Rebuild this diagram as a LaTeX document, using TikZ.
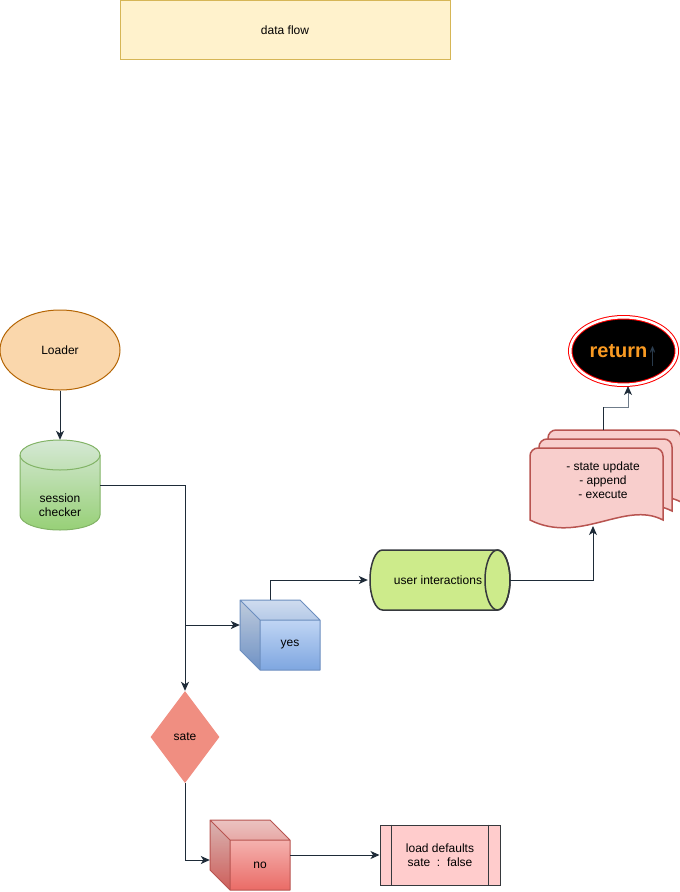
\documentclass[tikz,border=0pt]{standalone}
\usepackage{fontspec}
\setmainfont{Liberation Sans}
\newfontfamily\djv{DejaVu Sans}
\usetikzlibrary{shapes.geometric,arrows.meta,calc}
\definecolor{conncol}{HTML}{1E2B38}
\definecolor{conngray}{HTML}{6F7C8A}
\definecolor{dffill}{HTML}{FFF2CC}
\definecolor{dfstroke}{HTML}{D6B656}
\definecolor{loaderfill}{HTML}{FAD7AC}
\definecolor{loaderstroke}{HTML}{B46504}
\definecolor{scTop}{HTML}{D5E8D4}
\definecolor{scBot}{HTML}{97D077}
\definecolor{scStroke}{HTML}{82B366}
\definecolor{yesTop}{HTML}{DAE8FC}
\definecolor{yesBot}{HTML}{7EA6E0}
\definecolor{yesStroke}{HTML}{6C8EBF}
\definecolor{noTop}{HTML}{F8CECC}
\definecolor{noBot}{HTML}{EA6B66}
\definecolor{noStroke}{HTML}{B85450}
\definecolor{sateFill}{HTML}{F08E81}
\definecolor{uiFill}{HTML}{CDEB8B}
\definecolor{uiStroke}{HTML}{36393D}
\definecolor{docFill}{HTML}{F8CECC}
\definecolor{docStroke}{HTML}{B85450}
\definecolor{ldFill}{HTML}{FFCCCC}
\definecolor{ldStroke}{HTML}{36393D}
\definecolor{retOrange}{HTML}{F99A22}
\definecolor{arrowDark}{HTML}{2C3E50}
\tikzset{
  arrowline/.style={draw=conncol, line width=1pt, -{Stealth[length=9pt,width=8pt,inset=2.5pt,color=conncol]}},
  lbl/.style={font=\fontsize{12pt}{14pt}\selectfont, align=center, inner sep=0pt, text=black},
  anchorbox/.style={draw=none, fill=none, inner sep=0pt},
}
\newcommand{\docpage}[2]{%
  \filldraw[fill=docFill, draw=docStroke, line width=1.5pt]
    (#1,#2+8) arc[start angle=180,end angle=90,radius=8pt]
    -- (#1+125,#2) arc[start angle=90,end angle=0,radius=8pt]
    -- (#1+133,#2+72)
    .. controls (#1+95,#2+52) and (#1+50,#2+97) .. (#1,#2+72) -- cycle;}
\begin{document}
\begin{tikzpicture}[x=1pt,y=-1pt]
\useasboundingbox (0,0) rectangle (680,892);

% title box
\node[rectangle, draw=dfstroke, fill=dffill, line width=1pt, minimum width=330pt, minimum height=59pt, lbl] (df) at (285,30) {data flow};

% Loader
\node[ellipse, draw=loaderstroke, fill=loaderfill, line width=1pt, minimum width=120pt, minimum height=80pt, lbl] (loader) at (60,350) {Loader};

% session checker cylinder
\shade[top color=scTop, bottom color=scBot] (20,455) -- (20,515) arc[start angle=180,end angle=360,x radius=40pt,y radius=15pt] -- (100,455) arc[start angle=0,end angle=180,x radius=40pt,y radius=15pt] -- cycle;
\draw[scStroke, line width=1pt] (20,455) -- (20,515) arc[start angle=180,end angle=360,x radius=40pt,y radius=15pt] -- (100,455) arc[start angle=0,end angle=180,x radius=40pt,y radius=15pt] -- cycle;
\draw[scStroke, line width=1pt] (20,455) arc[start angle=180,end angle=360,x radius=40pt,y radius=15pt];
\node[anchorbox, minimum width=80pt, minimum height=90pt] (sc) at (60,485) {};
\node[lbl] (sctext) at (60,505) {session\\checker};

% yes cube
\shade[top color=yesTop, bottom color=yesBot] (240,600) -- (300,600) -- (320,620) -- (320,670) -- (260,670) -- (240,650) -- cycle;
\fill[black, opacity=0.12] (240,600) -- (260,620) -- (260,670) -- (240,650) -- cycle;
\fill[black, opacity=0.05] (240,600) -- (300,600) -- (320,620) -- (260,620) -- cycle;
\draw[yesStroke, line width=1pt, line join=round] (240,600) -- (300,600) -- (320,620) -- (320,670) -- (260,670) -- (240,650) -- cycle (240,600) -- (260,620) -- (320,620) (260,620) -- (260,670);
\node[anchorbox, minimum width=80pt, minimum height=70pt] (yes) at (280,635) {};
\node[lbl] (yestext) at (290,645) {yes};

% no cube
\shade[top color=noTop, bottom color=noBot] (210,820) -- (270,820) -- (290,840) -- (290,890) -- (230,890) -- (210,870) -- cycle;
\fill[black, opacity=0.12] (210,820) -- (230,840) -- (230,890) -- (210,870) -- cycle;
\fill[black, opacity=0.05] (210,820) -- (270,820) -- (290,840) -- (230,840) -- cycle;
\draw[noStroke, line width=1pt, line join=round] (210,820) -- (270,820) -- (290,840) -- (290,890) -- (230,890) -- (210,870) -- cycle (210,820) -- (230,840) -- (290,840) (230,840) -- (230,890);
\node[anchorbox, minimum width=80pt, minimum height=70pt] (no) at (250,855) {};
\node[lbl] (notext) at (260,865) {no};

% decision
\node[diamond, fill=sateFill, draw=none, minimum width=69pt, minimum height=92pt, lbl] (sate) at (185,737) {sate};

% user interactions cylinder
\filldraw[fill=uiFill, draw=uiStroke, line width=1.5pt] (382.5,550) -- (497.5,550) arc[start angle=90,end angle=-90,x radius=12.5pt,y radius=30pt] -- (382.5,610) arc[start angle=270,end angle=90,x radius=12.5pt,y radius=30pt] -- cycle;
\draw[uiStroke, line width=1.5pt] (497.5,580) circle[x radius=12.5pt, y radius=30pt];
\node[anchorbox, minimum width=140pt, minimum height=60pt, lbl] (ui) at (438,580) {user interactions};

% multi document
\docpage{548}{430}
\docpage{539}{439}
\docpage{530}{448}
\node[lbl] (docs) at (603,480) {- state update\\- append\\- execute};
\coordinate (docin) at (593,526);
\coordinate (docout) at (603,430);

% return
\node[ellipse, draw=red, double=white, double distance=2.5pt, line width=1pt, fill=black, minimum width=106.5pt, minimum height=67.5pt, inner sep=0pt] (ret) at (623.5,351) {\fontsize{20pt}{20pt}\selectfont\bfseries\color{retOrange}return\kern0.5pt\smash{\raisebox{-9pt}{\scalebox{0.42}[1]{\djv\fontsize{27pt}{27pt}\selectfont\mdseries\color{arrowDark}↑}}}};
\coordinate (retin) at (628,386);

% load defaults
\node[rectangle, draw=ldStroke, fill=ldFill, line width=1pt, minimum width=120pt, minimum height=60pt, lbl] (ld) at (440,855) {load defaults\\sate\ \ :\ \ false};
\draw[ldStroke, line width=1pt] ([xshift=12pt]ld.north west) -- ([xshift=12pt]ld.south west) ([xshift=-12pt]ld.north east) -- ([xshift=-12pt]ld.south east);

% connectors
\draw[arrowline] (loader.south) -- (sc.north);
\draw[arrowline] (sc.east) -| (sate.north);
\coordinate (br) at (185,625);
\draw[arrowline] (br) -- (br -| yes.west);
\draw[arrowline] ([xshift=-10pt]yes.north) |- (ui.west);
\draw[arrowline] (ui.east -| 510,0) -| (docin);
\draw[arrowline, draw=conngray] (docout) -- ++(0,-23) -| (retin);
\draw[conncol, line width=1pt] (docout) -- ++(0,-23);
\draw[arrowline] (sate.south) |- ([yshift=-5pt]no.west);
\draw[arrowline] (no.east) -- (ld.west);
\end{tikzpicture}
\end{document}
